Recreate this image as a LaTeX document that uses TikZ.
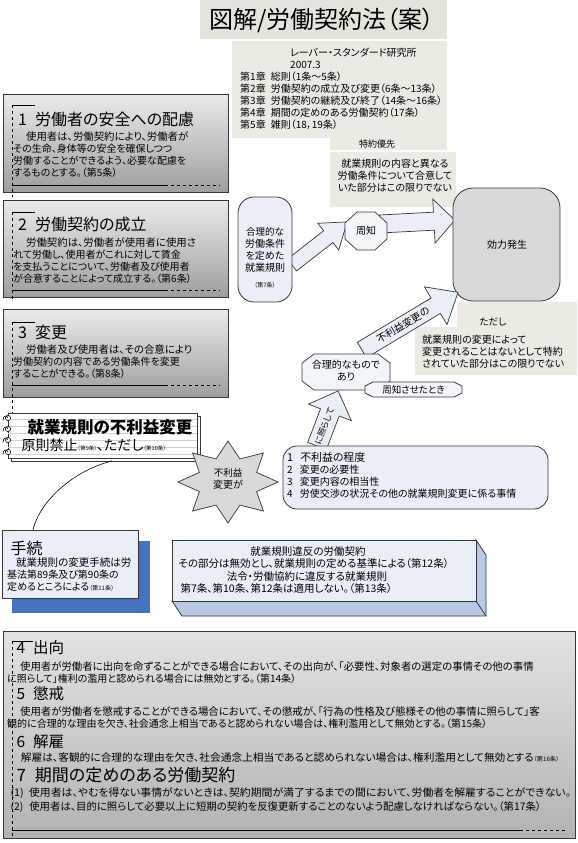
\documentclass[tikz,border=0pt]{standalone}
\usepackage{fontspec}
\setmainfont{Noto Sans CJK JP}[RawFeature=+palt]
\newcommand\fsz[2]{\fontsize{#1}{#2}\selectfont}
\newcommand\blockarr[7]{%
  \begin{scope}[shift={(#1,#2)}, rotate=#3]
    \draw[arrowfill] (0,-#5) -- ({#4-#7},-#5) -- ({#4-#7},-#6) -- (#4,0) -- ({#4-#7},#6) -- ({#4-#7},#5) -- (0,#5) -- cycle;
  \end{scope}}
\newcommand\octshape[6]{%
  \draw[octfill] ({#1-#3/2+#5},{#2-#4/2}) -- ({#1+#3/2-#5},{#2-#4/2}) -- ({#1+#3/2},{#2-#4/2+#6}) -- ({#1+#3/2},{#2+#4/2-#6}) -- ({#1+#3/2-#5},{#2+#4/2}) -- ({#1-#3/2+#5},{#2+#4/2}) -- ({#1-#3/2},{#2+#4/2-#6}) -- ({#1-#3/2},{#2-#4/2+#6}) -- cycle;}
\definecolor{titlebg}{RGB}{228,228,219}
\definecolor{infobg}{RGB}{235,235,228}
\definecolor{lightbox}{RGB}{234,238,247}
\definecolor{grayfill}{RGB}{217,217,217}
\definecolor{blueshadow}{RGB}{70,114,196}
\definecolor{sideblue}{RGB}{185,201,228}
\definecolor{edge}{RGB}{55,55,55}
\tikzset{
  txt/.style={inner sep=0, anchor=north west, align=left},
  arrowfill/.style={fill=lightbox, draw=edge, line width=0.7pt},
  octfill/.style={fill=lightbox!60!white, draw=edge, line width=0.7pt},
  gbox/.style={top color=black!8, bottom color=black!38, draw=edge, line width=0.9pt},
  deco/.style={line width=0.6pt, black},
}
\begin{document}
\begin{tikzpicture}[x=1pt,y=-1pt]
\useasboundingbox (0,0) rectangle (578,843);
\fill[white] (0,0) rectangle (578,843);
% title + info
\fill[titlebg] (200,0) rectangle (447,39);
\node (title) at (322,20) {\fsz{24}{28}図解/労働契約法（案）};
\fill[infobg] (232,41) rectangle (447,138);
\fill[infobg] (330,138) rectangle (447,150);
\node[txt] (lab) at (290,48) {\fsz{10}{11}レーバー・スタンダード研究所\\2007.3};
\node[txt] (chap) at (240,72) {\fsz{10}{12.2}第1章\hspace{5pt}総則（1条～5条）\\第2章\hspace{5pt}労働契約の成立及び変更（6条～13条）\\第3章\hspace{5pt}労働契約の継続及び終了（14条～16条）\\第4章\hspace{5pt}期間の定めのある労働契約（17条）\\第5章\hspace{5pt}雑則（18，19条）};
\node (tokuyaku) at (377,144) {\fsz{9}{10}特約優先};
\fill[infobg] (330,152) rectangle (456,207);
\node[inner sep=0, anchor=north, align=center] (tokutext) at (395,159) {\fsz{10}{13}就業規則の内容と異なる\\労働条件について合意して\\いた部分はこの限りでない};
% box 1
\shadedraw[gbox] (3,94) rectangle (228,192);
\draw[deco] (12,105) -- (35,105);
\draw[deco, dashed] (12,105) -- (12,197);
\draw[deco] (12,185) -- (165,185);
\draw[deco, dashed] (165,185) -- (220,185);
\node[txt] (b1t) at (18,112) {\fsz{16}{18}1\hspace{8pt}労働者の安全への配慮};
\node[txt] (b1b) at (13,132) {\fsz{10.4}{11.7}\hspace*{13pt}使用者は、労働契約により、労働者が\\その生命、身体等の安全を確保しつつ\\労働することができるよう、必要な配慮を\\するものとする。（第5条）};
% box 2
\shadedraw[gbox] (3,200) rectangle (228,297);
\draw[deco] (12,212) -- (35,212);
\draw[deco, dashed] (12,212) -- (12,302);
\draw[deco] (12,290) -- (165,290);
\draw[deco, dashed] (165,290) -- (220,290);
\node[txt] (b2t) at (18,217) {\fsz{16}{18}2\hspace{8pt}労働契約の成立};
\node[txt] (b2b) at (13,237) {\fsz{10.4}{11.7}\hspace*{13pt}労働契約は、労働者が使用者に使用さ\\れて労働し、使用者がこれに対して賃金\\を支払うことについて、労働者及び使用者\\が合意することによって成立する。（第6条）};
% box 3
\shadedraw[gbox] (3,309) rectangle (228,397);
\draw[deco] (12,322) -- (35,322);
\draw[deco, dashed] (12,322) -- (12,413);
\draw[deco] (12,385) -- (165,385);
\draw[deco, dashed] (165,385) -- (220,385);
\node[txt] (b3t) at (18,325) {\fsz{16}{18}3\hspace{8pt}変更};
\node[txt] (b3b) at (13,345) {\fsz{10.4}{11.7}\hspace*{13pt}労働者及び使用者は、その合意により\\労働契約の内容である労働条件を変更\\することができる。（第8条）};
% notebook
\draw[fill=white, draw=edge, line width=0.7pt] (11,416) rectangle (200,461);
\draw[fill=white, draw=edge, line width=0.7pt] (8,413) rectangle (197,458);
\foreach \yy in {419,426,433,440,447,454} \draw[black!18, line width=0.4pt] (8,\yy) -- (197,\yy);
\foreach \yy in {418,429,440,452} {
  \draw[fill=white, draw=black, line width=0.6pt] (8,\yy) circle (2.6);
  \draw[line width=0.6pt] (3,\yy+2.5) .. controls (3,\yy-3) and (7,\yy-3) .. (8,\yy);
}
\node[anchor=base] (nbt) at (110,433) {\fsz{16.5}{18}\bfseries 就業規則の不利益変更};
\node[anchor=base west] (nbs) at (18,450.5) {\fsz{14}{16}原則禁止{\fsz{5.5}{6}（第9条）}、ただし{\fsz{5.5}{6}（第10条）}};
\coordinate (nbbot) at (112,461);
\coordinate (tetop) at (33,530);
\draw[line width=0.6pt] (nbbot) .. controls (75,470) and (40,500) .. (tetop);
% tetsuzuki
\fill[blueshadow] (12,541) rectangle (150,613);
\draw[fill=lightbox, draw=edge, line width=0.9pt] (2,530) rectangle (138,598);
\node[anchor=base west] (tet) at (7,554) {\fsz{16}{18}手続};
\node[txt] (teb) at (7,557.5) {\fsz{10.5}{12.5}\hspace*{9pt}就業規則の変更手続は労\\基法第89条及び第90条の\\定めるところによる{\fsz{6}{7}（第11条）}};
% star
\draw[fill=grayfill, draw=edge, line width=0.7pt] (228,441) -- (216.1,458.9) -- (192.6,453) -- (199.4,472.4) -- (178,482) -- (199.4,491.6) -- (192.6,511) -- (216.1,505.1) -- (228,523) -- (239.9,505.1) -- (263.4,511) -- (256.6,491.6) -- (278,482) -- (256.6,472.4) -- (263.4,453) -- (239.9,458.9) -- cycle;
\node[align=center, inner sep=0] (star) at (228,479) {\fsz{9.5}{13}不利益\\変更が};
% 3D box
\draw[fill=sideblue, draw=edge, line width=0.8pt] (476,540) -- (486,555) -- (486,616) -- (182,616) -- (172,601) -- (476,601) -- cycle;
\draw[draw=edge, line width=0.8pt] (476,601) -- (486,616);
\draw[fill=lightbox, draw=edge, line width=0.8pt] (172,540) rectangle (476,601);
\node[anchor=base] (ih1) at (308,555) {\fsz{10.5}{11}就業規則違反の労働契約};
\node[anchor=base west] (ih2) at (175,567) {\fsz{10.5}{11}その部分は無効とし、就業規則の定める基準による（第12条）};
\node[anchor=base] (ih3) at (307,580) {\fsz{10.5}{11}法令・労働協約に違反する就業規則};
\node[anchor=base west] (ih4) at (177,592) {\fsz{10.5}{11}第7条、第10条、第12条は適用しない。（第13条）};
% right area
\fill[infobg] (457,302) rectangle (577,336);
\fill[infobg] (415,327) rectangle (577,375);
\node (tadashi) at (493,322) {\fsz{9.5}{10}ただし};
\node[txt] (tadtext) at (422,335) {\fsz{10}{11.7}就業規則の変更によって\\変更されることはないとして特約\\されていた部分はこの限りでない};
\blockarr{292}{265}{38}{70}{7.5}{17}{24}
\draw[fill=lightbox, draw=edge, line width=0.8pt, rounded corners=16pt] (238,197) rectangle (292,302);
\node[align=center, inner sep=0] (rule7) at (265,249.5) {\fsz{9.5}{12.8}合理的な\\労働条件\\を定めた\\就業規則};
\node (art7) at (265,285) {\fsz{6}{7}（第7条）};
\blockarr{380}{224}{3}{75}{9}{22}{21}
\octshape{366}{231}{42}{38}{12}{11}
\node (shuchi) at (366,231) {\fsz{10}{12}周知};
\draw[fill=grayfill, draw=edge, line width=0.8pt, rounded corners=20pt] (453,188) rectangle (560,301);
\node (kouryoku) at (507,245) {\fsz{10}{12}効力発生};
\blockarr{362}{350}{31}{112}{9}{22}{26}
\node[rotate=31, inner sep=0] (furieki) at (403,325) {\fsz{10}{11}不利益変更の};
\blockarr{317}{446}{69}{59}{10}{23}{23}
\node[rotate=69, inner sep=0] (terashi) at (324.5,426) {\fsz{8.5}{9}に照らして};
\octshape{346}{372}{88}{36}{12}{9}
\node[align=center, inner sep=0] (gouri) at (346,370.5) {\fsz{10}{13}合理的なもので\\あり};
\octshape{413.5}{389.5}{97}{15}{8}{4}
\node (shuchisase) at (413.5,389.5) {\fsz{9.5}{10}周知させたとき};
\draw[fill=lightbox, draw=edge, line width=0.8pt, rounded corners=14pt] (283,446) rectangle (548,509);
\node[txt] (list) at (287,452.5) {\fsz{10.9}{12.3}1\hspace{7pt}不利益の程度\\2\hspace{7pt}変更の必要性\\3\hspace{7pt}変更内容の相当性\\4\hspace{7pt}労使交渉の状況その他の就業規則変更に係る事情};
% bottom box
\shadedraw[top color=black!11, bottom color=black!30, draw=edge, line width=0.9pt] (3,631) rectangle (575,838);
\draw[deco] (12,641) -- (33,641);
\draw[deco, dashed] (12,641) -- (12,836);
\draw[deco] (12,830) -- (520,830);
\draw[deco, dashed] (520,830) -- (566,830);
\node[anchor=base west] (h4) at (13,653.7) {\fsz{15.5}{18}4\hspace{8pt}出向};
\node[txt] (t4) at (7,661) {\fsz{10.4}{12}\hspace*{13pt}使用者が労働者に出向を命ずることができる場合において、その出向が、「必要性、対象者の選定の事情その他の事情\\に照らして」権利の濫用と認められる場合には無効とする。（第14条）};
\node[anchor=base west] (h5) at (13,699.7) {\fsz{15.5}{18}5\hspace{8pt}懲戒};
\node[txt] (t5) at (7,706) {\fsz{10.4}{13.5}\hspace*{13pt}使用者が労働者を懲戒することができる場合において、その懲戒が、「行為の性格及び態様その他の事情に照らして」客\\観的に合理的な理由を欠き、社会通念上相当であると認められない場合は、権利濫用として無効とする。（第15条）};
\node[anchor=base west] (h6) at (13,747.7) {\fsz{15.5}{18}6\hspace{8pt}解雇};
\node[anchor=base west] (t6) at (7,761.8) {\scalebox{1.03}[1]{\fsz{10.4}{12}\hspace*{10pt}解雇は、客観的に合理的な理由を欠き、社会通念上相当であると認められない場合は、権利濫用として無効とする{\fsz{6}{7}（第16条）}}};
\node[anchor=base west] (h7) at (13,781.5) {\fsz{17}{20}7\hspace{9pt}期間の定めのある労働契約};
\node[anchor=base west] (t71) at (7,796.5) {\scalebox{1.045}[1]{\fsz{10.4}{12}(1)\hspace{5pt}使用者は、やむを得ない事情がないときは、契約期間が満了するまでの間において、労働者を解雇することができない。}};
\node[anchor=base west] (t72) at (7,810) {\fsz{10.4}{12}(2)\hspace{6pt}使用者は、目的に照らして必要以上に短期の契約を反復更新することのないよう配慮しなければならない。（第17条）};
\end{tikzpicture}
\end{document}
